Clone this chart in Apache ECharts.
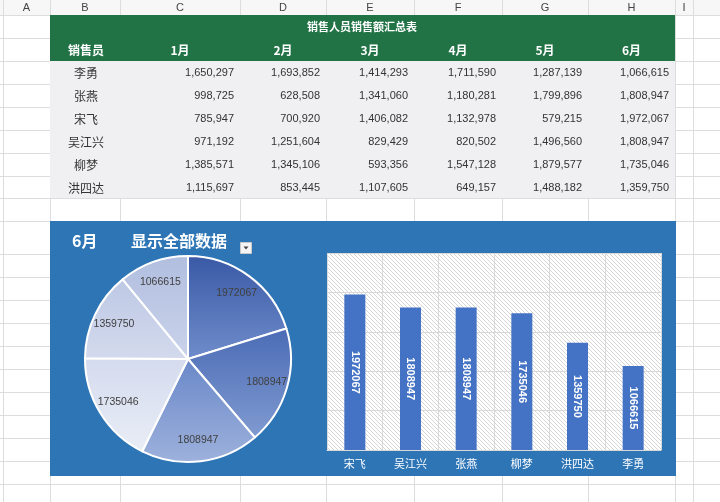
<!DOCTYPE html>
<html><head><meta charset="utf-8">
<script src="https://cdn.jsdelivr.net/npm/echarts@6/dist/echarts.min.js"></script>
<style>html,body{margin:0;padding:0;background:#fff}#c{width:720px;height:502px}</style>
</head><body><div id="c"></div>
<script>
// ---------- data ----------
const tableTitle = '销售人员销售额汇总表';
const headerLabel = '销售员';
const months = ['1月','2月','3月','4月','5月','6月'];
const people = ['李勇','张燕','宋飞','吴江兴','柳梦','洪四达'];
const m1 = [1650297, 998725, 785947, 971192, 1385571, 1115697];
const m2 = [1693852, 628508, 700920, 1251604, 1345106, 853445];
const m3 = [1414293, 1341060, 1406082, 829429, 593356, 1107605];
const m4 = [1711590, 1180281, 1132978, 820502, 1547128, 649157];
const m5 = [1287139, 1799896, 579215, 1496560, 1879577, 1488182];
const m6 = [1066615, 1808947, 1972067, 1808947, 1735046, 1359750];
const columnLetters = ['A','B','C','D','E','F','G','H','I'];
const chartMonth = '6月';
const filterLabel = '显示全部数据';
const chartNames = ['宋飞','吴江兴','张燕','柳梦','洪四达','李勇'];
const chartValues = [1972067, 1808947, 1808947, 1735046, 1359750, 1066615];
const yTicks = [0, 500000, 1000000, 1500000, 2000000, 2500000];

// ---------- layout & style ----------
const colEdges = [3, 50, 120, 240, 326, 414, 502, 588, 675, 693, 720];
const rowEdges = [15, 38, 61, 84, 107, 130, 153, 176, 198, 221, 254, 277, 300, 323, 346, 369, 392, 415, 438, 461, 484];
const monthCols = [m1, m2, m3, m4, m5, m6];
const FONT = '"Noto Sans CJK SC", sans-serif';
const NUMFONT = '"Liberation Sans", Arial, sans-serif';
const sliceColors = [
  ['#3A59A6', '#6F8DCB'],
  ['#4A6BB5', '#819BD1'],
  ['#6A88C8', '#9DB1DC'],
  ['#D4DBEE', '#E9EDF6'],
  ['#BDC8E4', '#D3DAED'],
  ['#B1BEDF', '#CAD3EA']
];

const g = [];
let z2 = 0;
function add(el) { el.z = -5; el.z2 = z2++; el.silent = true; g.push(el); }

add({type:'rect', shape:{x:0,y:0,width:720,height:502}, style:{fill:'#ffffff'}});
add({type:'rect', shape:{x:0,y:0,width:720,height:15}, style:{fill:'#F7F7F7'}});
// sheet grid lines
rowEdges.forEach(y => add({type:'line', shape:{x1:0,y1:y+0.5,x2:720,y2:y+0.5}, style:{stroke:'#DDDDDD', lineWidth:1}}));
colEdges.forEach(x => add({type:'line', shape:{x1:x+0.5,y1:0,x2:x+0.5,y2:502}, style:{stroke:'#DDDDDD', lineWidth:1}}));
// column letters
columnLetters.forEach((L, i) => add({type:'text', x:(colEdges[i]+colEdges[i+1])/2, y:8,
  style:{text:L, fill:'#444', font:'11px ' + NUMFONT, align:'center', verticalAlign:'middle'}}));
// table
add({type:'rect', shape:{x:50,y:15,width:625,height:46}, style:{fill:'#217346'}});
add({type:'rect', shape:{x:50,y:61,width:625,height:137}, style:{fill:'#F0F0F2'}});
add({type:'text', x:362, y:27, style:{text:tableTitle, fill:'#fff', font:'bold 11px ' + FONT, align:'center', verticalAlign:'middle'}});
add({type:'text', x:86, y:50, style:{text:headerLabel, fill:'#fff', font:'bold 12px ' + FONT, align:'center', verticalAlign:'middle'}});
months.forEach((m, i) => add({type:'text', x:(colEdges[i+2]+colEdges[i+3])/2, y:50,
  style:{text:m, fill:'#fff', font:'bold 12px ' + FONT, align:'center', verticalAlign:'middle'}}));
people.forEach((p, r) => {
  const y = 73 + r * 23;
  add({type:'text', x:86, y:y, style:{text:p, fill:'#333', font:'12px ' + FONT, align:'center', verticalAlign:'middle'}});
  monthCols.forEach((col, c) => add({type:'text', x:colEdges[c+3]-6, y:y,
    style:{text:col[r].toLocaleString('en-US'), fill:'#333', font:'11px ' + NUMFONT, align:'right', verticalAlign:'middle'}}));
});
// chart area
add({type:'rect', shape:{x:50,y:221,width:626,height:255}, style:{fill:'#2E75B6'}});
add({type:'text', x:72, y:241, style:{text:chartMonth, fill:'#fff', font:'bold 16px ' + FONT, verticalAlign:'middle'}});
add({type:'text', x:131, y:241, style:{text:filterLabel, fill:'#fff', font:'bold 16px ' + FONT, verticalAlign:'middle'}});
add({type:'rect', shape:{x:240.5,y:242.5,width:11,height:11}, style:{fill:'#F4F4F4', stroke:'#C8C8C8', lineWidth:1}});
add({type:'polygon', shape:{points:[[243.5,246.5],[248.5,246.5],[246,249.5]]}, style:{fill:'#444'}});
// hatch background of bar plot
const pc = document.createElement('canvas');
pc.width = 4; pc.height = 4;
const cx = pc.getContext('2d');
cx.fillStyle = '#ffffff'; cx.fillRect(0,0,4,4);
cx.strokeStyle = '#D6D6D6'; cx.lineWidth = 1;
cx.beginPath(); cx.moveTo(-1,-1); cx.lineTo(5,5); cx.stroke();
add({type:'rect', shape:{x:327,y:253,width:334,height:197}, style:{fill:{image:pc, repeat:'repeat'}}});

const chart = echarts.init(document.getElementById('c'), null, {renderer:'canvas'});
chart.setOption({
  animation: false,
  graphic: {elements: g},
  grid: {left:327, top:253, width:334, height:197, containLabel:false},
  xAxis: {
    type:'category', data: chartNames,
    axisLine:{show:true, lineStyle:{color:'#D9D9D9'}},
    axisTick:{show:false},
    axisLabel:{color:'#fff', fontSize:11, fontFamily:FONT, margin:8},
    splitLine:{show:true, lineStyle:{color:'#D9D9D9', width:1}}
  },
  yAxis: {
    type:'value', min:yTicks[0], max:yTicks[yTicks.length-1], interval:yTicks[1]-yTicks[0],
    axisLabel:{show:false}, axisLine:{show:false}, axisTick:{show:false},
    splitLine:{show:true, lineStyle:{color:'#D9D9D9', width:1}}
  },
  series: [
    {
      type:'bar', data: chartValues, barWidth:21,
      itemStyle:{color:'#4472C4'},
      label:{show:true, position:'inside', rotate:-90, color:'#fff', fontWeight:'bold', fontSize:11, fontFamily:NUMFONT}
    },
    {
      type:'pie', center:[188,359], radius:[0,103], startAngle:90, clockwise:true,
      label:{show:false}, labelLine:{show:false},
      itemStyle:{borderColor:'#fff', borderWidth:2},
      data: chartNames.map((n,i)=>({name:n, value:chartValues[i], itemStyle:{
        color:new echarts.graphic.LinearGradient(0,0,0,1,[{offset:0,color:sliceColors[i][0]},{offset:1,color:sliceColors[i][1]}])}}))
    },
    {
      type:'pie', center:[188,359], radius:[55,103], startAngle:90, clockwise:true, silent:true,
      itemStyle:{color:'rgba(0,0,0,0)', borderWidth:0},
      label:{show:true, position:'inside', color:'#404040', fontSize:10.5, fontFamily:NUMFONT, formatter:'{c}'},
      labelLine:{show:false},
      data: chartNames.map((n,i)=>({name:n, value:chartValues[i]}))
    }
  ]
});
</script></body></html>
